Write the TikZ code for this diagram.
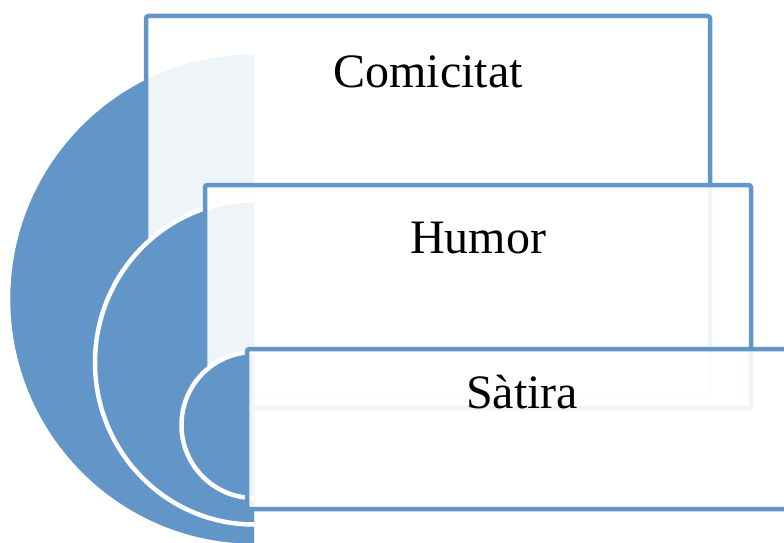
\documentclass[tikz,border=0pt]{standalone}
\usepackage{fontspec}
\setmainfont{Liberation Serif}
\definecolor{tblue}{RGB}{98,150,201}
\begin{document}
\begin{tikzpicture}[x=1pt,y=-1pt,
  disc/.style={fill=tblue,draw=white,line width=4.5pt},
  panel/.style={draw=tblue,fill=white,fill opacity=0.9,draw opacity=1,line width=4.5pt,rounded corners=2.5pt,inner sep=0pt,outer sep=0pt},
  lbl/.style={anchor=base,inner sep=0pt,font=\fontsize{48}{58}\selectfont,text=black,text opacity=1}]
\useasboundingbox (0,0) rectangle (784,543);
\clip (0,0) rectangle (784,543);
\fill[white] (0,0) rectangle (784,543);
% big half disc
\path[disc] (254,546) arc[start angle=90,end angle=270,x radius=246,y radius=247];
\node[panel,minimum width=564pt,minimum height=384pt] (r1) at (428,208) {};
% middle half disc
\path[disc] (254,524.5) arc[start angle=90,end angle=270,x radius=159,y radius=162];
\node[panel,minimum width=546pt,minimum height=223pt] (r2) at (478,296.5) {};
% small half disc
\path[disc] (254,498) arc[start angle=90,end angle=270,x radius=72.5,y radius=73];
\node[panel,minimum width=550pt,minimum height=160pt] (r3) at (522,429) {};
% labels
\node[lbl] (t1) at (428,88) {Comicitat};
\node[lbl] (t2) at (478,253) {Humor};
\node[lbl] (t3) at (522,408) {Sàtira};
\end{tikzpicture}
\end{document}
